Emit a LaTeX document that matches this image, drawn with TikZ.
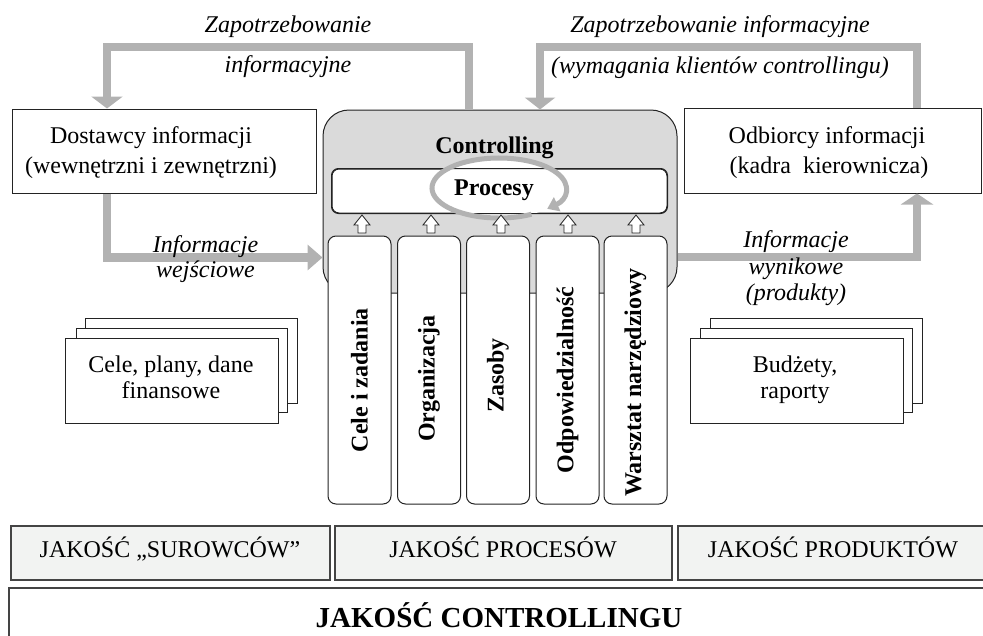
\documentclass[tikz,border=0pt]{standalone}
\usepackage{fontspec}
\setmainfont{Liberation Serif}
\usetikzlibrary{arrows.meta,calc}
\definecolor{arrgray}{RGB}{178,178,178}
\definecolor{ctrlgray}{RGB}{218,218,218}
\definecolor{qgray}{RGB}{242,243,242}
\definecolor{edgec}{RGB}{35,35,35}
\begin{document}
\begin{tikzpicture}[x=1pt,y=-1pt,
  txt/.style={font=\fontsize{24}{29}\selectfont, inner sep=0pt, anchor=base},
  itxt/.style={txt, font=\fontsize{24}{29}\selectfont\itshape},
  btxt/.style={txt, font=\fontsize{24}{29}\selectfont\bfseries},
  coltxt/.style={font=\fontsize{24}{29}\selectfont\bfseries, inner sep=0pt, rotate=90, anchor=center},
  box/.style={draw=edgec, line width=1pt, fill=white, inner sep=0pt},
  colbox/.style={draw=edgec, line width=1pt, fill=white, inner sep=0pt, rounded corners=8pt, minimum width=63pt, minimum height=268pt},
  qbox/.style={draw=edgec!85, line width=1.5pt, fill=qgray, inner sep=0pt},
  bigarr/.style={draw=arrgray, line width=8.5pt, line join=miter},
  uparrow/.pic={\draw[line width=0.8pt, draw=edgec, fill=white] (0,-9) -- (8,1) -- (4,1) -- (4,9) -- (-4,9) -- (-4,1) -- (-8,1) -- cycle;}
]
\useasboundingbox (0,0) rectangle (983,635);
\clip (0,0) rectangle (983,635);

% main boxes
\node[box, minimum width=304pt, minimum height=84pt] (dost) at (164,151) {};
\node[box, minimum width=297pt, minimum height=85pt] (odb) at (832.5,150.5) {};
\node[draw=edgec, line width=1pt, fill=ctrlgray, rounded corners=26pt, inner sep=0pt,
      minimum width=354pt, minimum height=183pt] (ctrl) at (500,201.5) {};

% big gray connectors
\coordinate (p1) at (469,47);
\coordinate (p2) at (107,47);
\draw[bigarr, -{Triangle[width=31pt,length=12pt]}] (ctrl.north -| p1) -- (p1) -- (p2) -- (dost.north -| p2);
\coordinate (q1) at (917,47);
\coordinate (q2) at (540,47);
\draw[bigarr, -{Triangle[width=30pt,length=12pt]}] (odb.north -| q1) -- (q1) -- (q2) -- (ctrl.north -| q2);
\coordinate (r1) at (107,257.5);
\draw[bigarr, -{Triangle[width=25pt,length=15pt]}] (dost.south -| r1) -- (r1) -- (ctrl.west |- r1);
\coordinate (s1) at (917,257);
\draw[bigarr, -{Triangle[width=32pt,length=11pt]}] (ctrl.east |- s1) -- (s1) -- (odb.south -| s1);

% Procesy
\node[box, rounded corners=7pt, minimum width=335pt, minimum height=44pt] (proc) at (499.5,191) {};
\fill[white] (499,188) ellipse [x radius=67pt, y radius=30pt];
\draw[draw=edgec, line width=1pt, rounded corners=7pt] (proc.north west) rectangle (proc.south east);
\node[btxt] (proctxt) at (494,195) {Procesy};
\node[btxt] (ctrltxt) at (494.5,153) {Controlling};
\draw[arrgray, line width=5pt, -{Triangle[width=15pt,length=11pt]}]
  ($(499,188)+(-61:67pt and 30pt)$) arc[start angle=-61, end angle=-404, x radius=67pt, y radius=30pt];

% small arrows
\foreach \ax in {362,431,501,568,636} \pic at (\ax,224) {uparrow};

% columns
\node[colbox] (c1) at (359.5,370) {};
\node[colbox] (c2) at (429,370) {};
\node[colbox] (c3) at (498,370) {};
\node[colbox] (c4) at (567.5,370) {};
\node[colbox] (c5) at (635.5,370) {};
\node[coltxt] (c1t) at (359.5,380) {Cele i zadania};
\node[coltxt] (c2t) at (429,378.5) {Organizacja};
\node[coltxt] (c3t) at (498,375.5) {Zasoby};
\node[coltxt] (c4t) at (567.5,380) {Odpowiedzialność};
\node[coltxt] (c5t) at (635.5,382.5) {Warsztat narzędziowy};

% texts in boxes
\node[txt] (dostA) at (151,143) {Dostawcy informacji};
\node[txt] (dostB) at (151,173) {(wewnętrzni i zewnętrzni)};
\node[txt] (odbA) at (827,143) {Odbiorcy informacji};
\node[txt] (odbB) at (829,173) {(kadra\ \ kierownicza)};

% connector labels
\node[itxt] (l1a) at (288,32) {Zapotrzebowanie};
\node[itxt] (l1b) at (288,72) {informacyjne};
\node[itxt] (l2a) at (720,32) {Zapotrzebowanie informacyjne};
\node[itxt] (l2b) at (720,73) {(wymagania klientów controllingu)};
\node[itxt] (l3a) at (205.5,252) {Informacje};
\node[itxt] (l3b) at (205.5,277) {wejściowe};
\node[itxt] (l4a) at (796,247) {Informacje};
\node[itxt] (l4b) at (796,274) {wynikowe};
\node[itxt] (l4c) at (796,300) {(produkty)};

% stacks
\node[box, minimum width=212pt, minimum height=85pt] (sa3) at (191,360.5) {};
\node[box, minimum width=211pt, minimum height=84pt] (sa2) at (181.5,370) {};
\node[box, minimum width=213pt, minimum height=85pt] (sa1) at (171.5,380.5) {};
\node[txt] (saA) at (171,372) {Cele, plany, dane};
\node[txt] (saB) at (171,398) {finansowe};
\node[box, minimum width=212pt, minimum height=85pt] (sb3) at (816,360.5) {};
\node[box, minimum width=212pt, minimum height=84pt] (sb2) at (806,370) {};
\node[box, minimum width=213pt, minimum height=85pt] (sb1) at (796.5,380.5) {};
\node[txt] (sbA) at (795,372) {Budżety,};
\node[txt] (sbB) at (795,398) {raporty};

% quality boxes
\node[qbox, minimum width=319pt, minimum height=54pt] (q1b) at (170.5,553) {};
\node[qbox, minimum width=337pt, minimum height=54pt] (q2b) at (503.5,553) {};
\node[qbox, minimum width=312pt, minimum height=54pt] (q3b) at (834,553) {};
\node[txt] (q1t) at (170,557) {JAKOŚĆ „SUROWCÓW”};
\node[txt] (q2t) at (503,557) {JAKOŚĆ PROCESÓW};
\node[txt] (q3t) at (833,557) {JAKOŚĆ PRODUKTÓW};
\node[draw=edgec!85, line width=1.5pt, fill=white, inner sep=0pt, minimum width=981pt, minimum height=72pt] (big) at (499.5,624) {};
\node[txt, font=\fontsize{29}{34}\selectfont\bfseries] (bigt) at (499,627) {JAKOŚĆ CONTROLLINGU};
\end{tikzpicture}
\end{document}
